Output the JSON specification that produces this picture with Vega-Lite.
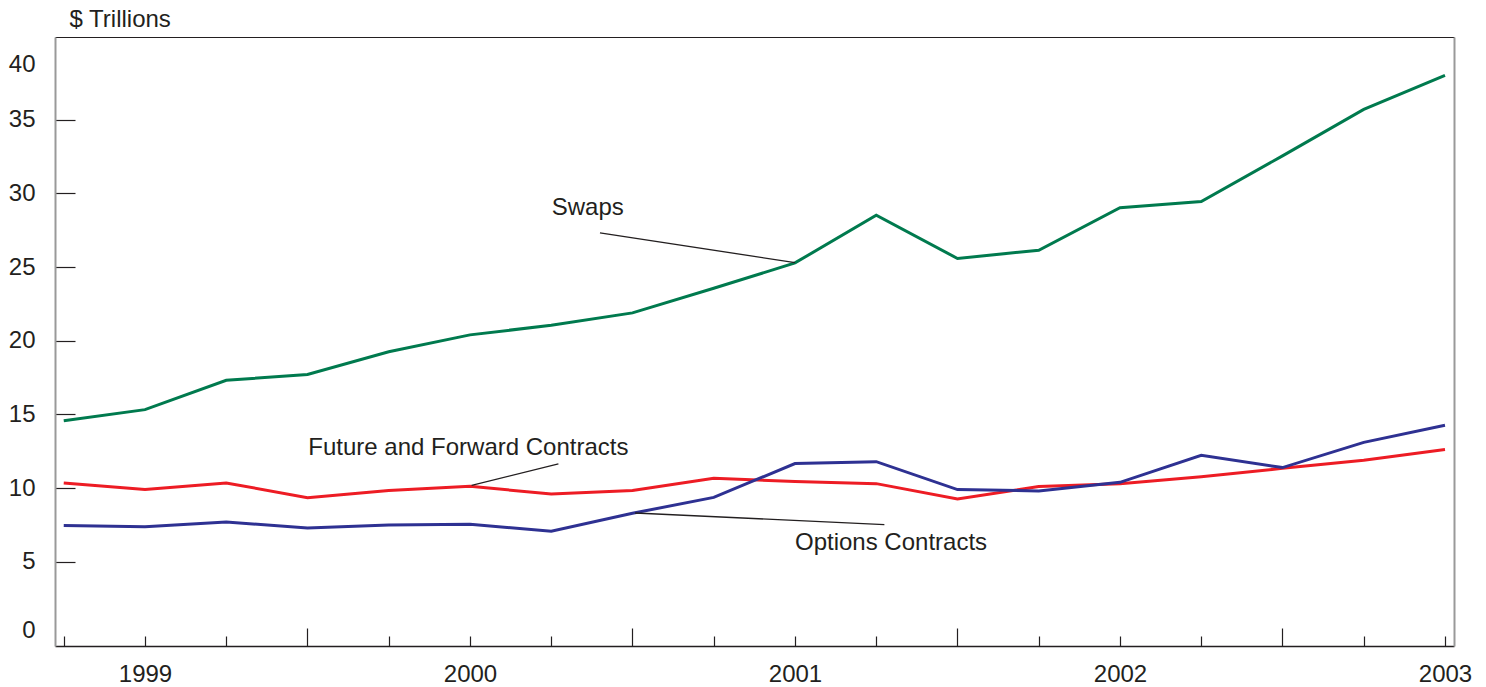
{
  "$schema": "https://vega.github.io/schema/vega-lite/v6.json",
  "width": 1399,
  "height": 609,
  "autosize": {"type": "none"},
  "padding": {"left": 55, "top": 37, "right": 32, "bottom": 41},
  "background": "white",
  "config": {"view": {"stroke": null}, "font": "Liberation Sans"},
  "datasets": {
    "series": [
      {"t": 1998.75, "v": 14.57, "series": "Swaps"},
      {"t": 1999.0, "v": 15.33, "series": "Swaps"},
      {"t": 1999.25, "v": 17.32, "series": "Swaps"},
      {"t": 1999.5, "v": 17.71, "series": "Swaps"},
      {"t": 1999.75, "v": 19.25, "series": "Swaps"},
      {"t": 2000.0, "v": 20.40, "series": "Swaps"},
      {"t": 2000.25, "v": 21.05, "series": "Swaps"},
      {"t": 2000.5, "v": 21.89, "series": "Swaps"},
      {"t": 2000.75, "v": 23.56, "series": "Swaps"},
      {"t": 2001.0, "v": 25.28, "series": "Swaps"},
      {"t": 2001.25, "v": 28.51, "series": "Swaps"},
      {"t": 2001.5, "v": 25.58, "series": "Swaps"},
      {"t": 2001.75, "v": 26.14, "series": "Swaps"},
      {"t": 2002.0, "v": 29.02, "series": "Swaps"},
      {"t": 2002.25, "v": 29.44, "series": "Swaps"},
      {"t": 2002.5, "v": 32.54, "series": "Swaps"},
      {"t": 2002.75, "v": 35.69, "series": "Swaps"},
      {"t": 2003.0, "v": 37.99, "series": "Swaps"},
      {"t": 1998.75, "v": 10.36, "series": "Future and Forward Contracts"},
      {"t": 1999.0, "v": 9.91, "series": "Future and Forward Contracts"},
      {"t": 1999.25, "v": 10.36, "series": "Future and Forward Contracts"},
      {"t": 1999.5, "v": 9.36, "series": "Future and Forward Contracts"},
      {"t": 1999.75, "v": 9.84, "series": "Future and Forward Contracts"},
      {"t": 2000.0, "v": 10.13, "series": "Future and Forward Contracts"},
      {"t": 2000.25, "v": 9.61, "series": "Future and Forward Contracts"},
      {"t": 2000.5, "v": 9.84, "series": "Future and Forward Contracts"},
      {"t": 2000.75, "v": 10.67, "series": "Future and Forward Contracts"},
      {"t": 2001.0, "v": 10.45, "series": "Future and Forward Contracts"},
      {"t": 2001.25, "v": 10.31, "series": "Future and Forward Contracts"},
      {"t": 2001.5, "v": 9.27, "series": "Future and Forward Contracts"},
      {"t": 2001.75, "v": 10.11, "series": "Future and Forward Contracts"},
      {"t": 2002.0, "v": 10.31, "series": "Future and Forward Contracts"},
      {"t": 2002.25, "v": 10.77, "series": "Future and Forward Contracts"},
      {"t": 2002.5, "v": 11.35, "series": "Future and Forward Contracts"},
      {"t": 2002.75, "v": 11.89, "series": "Future and Forward Contracts"},
      {"t": 2003.0, "v": 12.62, "series": "Future and Forward Contracts"},
      {"t": 1998.75, "v": 7.48, "series": "Options Contracts"},
      {"t": 1999.0, "v": 7.39, "series": "Options Contracts"},
      {"t": 1999.25, "v": 7.71, "series": "Options Contracts"},
      {"t": 1999.5, "v": 7.31, "series": "Options Contracts"},
      {"t": 1999.75, "v": 7.51, "series": "Options Contracts"},
      {"t": 2000.0, "v": 7.55, "series": "Options Contracts"},
      {"t": 2000.25, "v": 7.08, "series": "Options Contracts"},
      {"t": 2000.5, "v": 8.30, "series": "Options Contracts"},
      {"t": 2000.75, "v": 9.38, "series": "Options Contracts"},
      {"t": 2001.0, "v": 11.67, "series": "Options Contracts"},
      {"t": 2001.25, "v": 11.80, "series": "Options Contracts"},
      {"t": 2001.5, "v": 9.91, "series": "Options Contracts"},
      {"t": 2001.75, "v": 9.82, "series": "Options Contracts"},
      {"t": 2002.0, "v": 10.40, "series": "Options Contracts"},
      {"t": 2002.25, "v": 12.23, "series": "Options Contracts"},
      {"t": 2002.5, "v": 11.40, "series": "Options Contracts"},
      {"t": 2002.75, "v": 13.11, "series": "Options Contracts"},
      {"t": 2003.0, "v": 14.27, "series": "Options Contracts"}
    ],
    "leaders": [
      {"t1": 2000.4, "v1": 27.32, "t2": 2001.0, "v2": 25.30},
      {"t1": 2000.005, "v1": 10.20, "t2": 2000.272, "v2": 11.65},
      {"t1": 2000.508, "v1": 8.32, "t2": 2001.275, "v2": 7.53}
    ],
    "labels": [
      {"t": 2000.2514, "v": 28.56, "label": "Swaps"},
      {"t": 1999.5025, "v": 12.23, "label": "Future and Forward Contracts"},
      {"t": 2001.0, "v": 5.79, "label": "Options Contracts"}
    ]
  },
  "layer": [
    {
      "data": {"name": "series"},
      "transform": [{"filter": "datum.series == 'Swaps'"}],
      "mark": {"type": "line", "strokeWidth": 3},
      "encoding": {
        "x": {
          "field": "t", "type": "quantitative",
          "scale": {"domain": [1998.7231, 2003.0277], "nice": false, "zero": false},
          "axis": {
            "orient": "bottom",
            "title": null,
            "grid": false,
            "values": [1999, 2000, 2001, 2002, 2003],
            "format": "d",
            "labelFlush": false,
            "labelOverlap": false,
            "labelBound": false,
            "labelFont": "Liberation Sans",
            "labelFontSize": 24,
            "labelColor": "#231f20",
            "labelBaseline": "top",
            "labelPadding": 26.6,
            "tickSize": -10,
            "tickColor": "#231f20",
            "tickWidth": 1.2,
            "domainColor": "#231f20",
            "domainWidth": 1.5
          }
        },
        "y": {
          "field": "v", "type": "quantitative",
          "scale": {"domain": [-0.7, 40.6], "nice": false, "zero": false},
          "axis": {
            "orient": "left",
            "title": "$ Trillions",
            "titleAngle": 0,
            "titleAlign": "left",
            "titleBaseline": "alphabetic",
            "titleX": 14,
            "titleY": -11,
            "titleFont": "Liberation Sans",
            "titleFontSize": 24,
            "titleFontWeight": "normal",
            "titleColor": "#231f20",
            "grid": false,
            "values": [0, 5, 10, 15, 20, 25, 30, 35, 40],
            "labelFont": "Liberation Sans",
            "labelFontSize": 24,
            "labelColor": "#231f20",
            "labelBaseline": "middle",
            "labelPadding": 40,
            "labelFlush": false,
            "labelOverlap": false,
            "labelBound": false,
            "labelOffset": {"condition": [{"test": "datum.value == 40", "value": 19}, {"test": "datum.value == 0", "value": -5}], "value": 0},
            "tickSize": -20,
            "tickColor": "#231f20",
            "tickWidth": 1.2,
            "tickOpacity": {"condition": {"test": "datum.value == 0 || datum.value == 40", "value": 0}, "value": 1},
            "domainColor": "#999999",
            "domainWidth": 2
          }
        },
        "color": {
          "field": "series", "type": "nominal",
          "scale": {"domain": ["Swaps", "Future and Forward Contracts", "Options Contracts"], "range": ["#007a4e", "#ed1c24", "#2e3192"]},
          "legend": null
        }
      }
    },
    {
      "data": {"name": "series"},
      "transform": [{"filter": "datum.series != 'Swaps'"}],
      "mark": {"type": "line", "strokeWidth": 3},
      "encoding": {
        "x": {
          "field": "t", "type": "quantitative",
          "scale": {"domain": [1998.7231, 2003.0277], "nice": false, "zero": false},
          "axis": {
            "orient": "bottom",
            "title": null,
            "grid": false,
            "values": [1998.75, 1999.25, 1999.75, 2000.25, 2000.75, 2001.25, 2001.75, 2002.25, 2002.75],
            "labels": false,
            "domain": false,
            "tickSize": -10,
            "tickColor": "#231f20",
            "tickWidth": 1.2
          }
        },
        "y": {
          "field": "v", "type": "quantitative",
          "scale": {"domain": [-0.7, 40.6], "nice": false, "zero": false},
          "axis": null
        },
        "color": {
          "field": "series", "type": "nominal",
          "scale": {"domain": ["Swaps", "Future and Forward Contracts", "Options Contracts"], "range": ["#007a4e", "#ed1c24", "#2e3192"]},
          "legend": null
        }
      }
    },
    {
      "data": {"name": "leaders"},
      "mark": {"type": "rule", "color": "#231f20", "strokeWidth": 1.3},
      "encoding": {
        "x": {
          "field": "t1", "type": "quantitative",
          "scale": {"domain": [1998.7231, 2003.0277], "nice": false, "zero": false},
          "axis": {"orient": "top", "title": null, "labels": false, "ticks": false, "grid": false, "domainColor": "#231f20", "domainWidth": 1.2}
        },
        "x2": {"field": "t2"},
        "y": {
          "field": "v1", "type": "quantitative",
          "scale": {"domain": [-0.7, 40.6], "nice": false, "zero": false},
          "axis": {"orient": "right", "title": null, "labels": false, "ticks": false, "grid": false, "domainColor": "#999999", "domainWidth": 2}
        },
        "y2": {"field": "v2"}
      }
    },
    {
      "data": {"name": "labels"},
      "mark": {"type": "text", "align": "left", "baseline": "alphabetic", "font": "Liberation Sans", "fontSize": 24, "color": "#231f20"},
      "encoding": {
        "x": {
          "field": "t", "type": "quantitative",
          "scale": {"domain": [1998.7231, 2003.0277], "nice": false, "zero": false},
          "axis": {
            "orient": "bottom",
            "title": null,
            "grid": false,
            "values": [1999.5, 2000.5, 2001.5, 2002.5],
            "labels": false,
            "domain": false,
            "tickSize": -18,
            "tickColor": "#231f20",
            "tickWidth": 1.2
          }
        },
        "y": {"field": "v", "type": "quantitative", "scale": {"domain": [-0.7, 40.6], "nice": false, "zero": false}, "axis": null},
        "text": {"field": "label"}
      }
    }
  ],
  "resolve": {"axis": {"x": "independent", "y": "independent"}}
}
